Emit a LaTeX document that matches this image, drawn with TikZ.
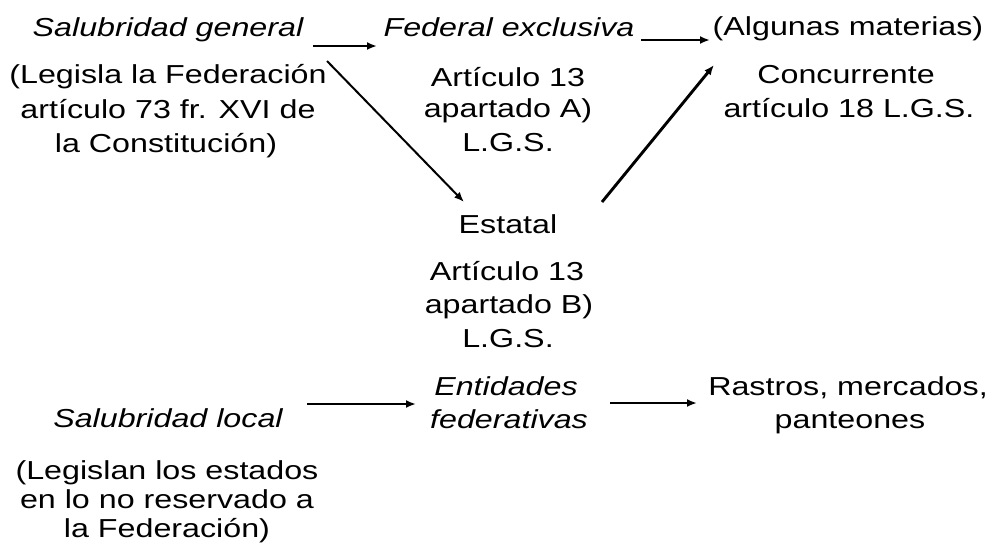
\documentclass[tikz,border=0pt]{standalone}
\usepackage{fontspec}
\setmainfont{Liberation Sans}[FakeStretch=1.24]
\usetikzlibrary{arrows.meta}
\begin{document}
\begin{tikzpicture}[x=1pt,y=-1pt,
  txt/.style={anchor=base,inner sep=0pt,font=\fontsize{26}{30}\selectfont},
  itx/.style={anchor=base,inner sep=0pt,font=\fontsize{26}{30}\selectfont\itshape},
  arr/.style={-{Latex[length=10pt,width=8pt]},line width=2.9pt},
  thinarr/.style={-{Latex[length=10pt,width=8pt]},line width=2pt}]
\useasboundingbox[fill=white] (0,0) rectangle (993,547);
% top left
\node[itx] (sg) at (168,36) {Salubridad general};
\node[txt] (lf1) at (168,83) {(Legisla la Federación};
\node[txt] (lf2) at (168,118) {artículo 73 fr. XVI de};
\node[txt] (lf3) at (166,152) {la Constitución)};
% top middle
\node[itx] (fe) at (509,36) {Federal exclusiva};
\node[txt] (aa1) at (508,86) {Artículo 13};
\node[txt] (aa2) at (508,117) {apartado A)};
\node[txt] (aa3) at (508,151) {L.G.S.};
% top right
\node[txt] (am) at (848,35) {(Algunas materias)};
\node[txt] (cc1) at (846,83) {Concurrente};
\node[txt] (cc2) at (849,117) {artículo 18 L.G.S.};
% middle
\node[txt] (es) at (508,233) {Estatal};
\node[txt] (ab1) at (507,280) {Artículo 13};
\node[txt] (ab2) at (509,313) {apartado B)};
\node[txt] (ab3) at (508,347) {L.G.S.};
% bottom
\node[itx] (ef1) at (506,395) {Entidades};
\node[itx] (ef2) at (509,428) {federativas};
\node[itx] (sl) at (168,427) {Salubridad local};
\node[txt] (ll1) at (167,479) {(Legislan los estados};
\node[txt] (ll2) at (167,508) {en lo no reservado a};
\node[txt] (ll3) at (167,537) {la Federación)};
\node[txt] (rm1) at (848,395) {Rastros, mercados,};
\node[txt] (rm2) at (850,428) {panteones};
% connector ends
\coordinate (c1s) at (313,46); \coordinate (c1e) at (377,46);
\coordinate (c2s) at (641,40); \coordinate (c2e) at (710,40);
\coordinate (c3s) at (327,61); \coordinate (c3e) at (464,202);
\coordinate (c4s) at (602,202); \coordinate (c4e) at (714,65);
\coordinate (c5s) at (307,404); \coordinate (c5e) at (416,404);
\coordinate (c6s) at (610,403); \coordinate (c6e) at (697,403);
\draw[arr] (c1s) -- (c1e);
\draw[arr] (c2s) -- (c2e);
\draw[thinarr] (c3s) -- (c3e);
\draw[arr] (c4s) -- (c4e);
\draw[arr] (c5s) -- (c5e);
\draw[arr] (c6s) -- (c6e);
\end{tikzpicture}
\end{document}
